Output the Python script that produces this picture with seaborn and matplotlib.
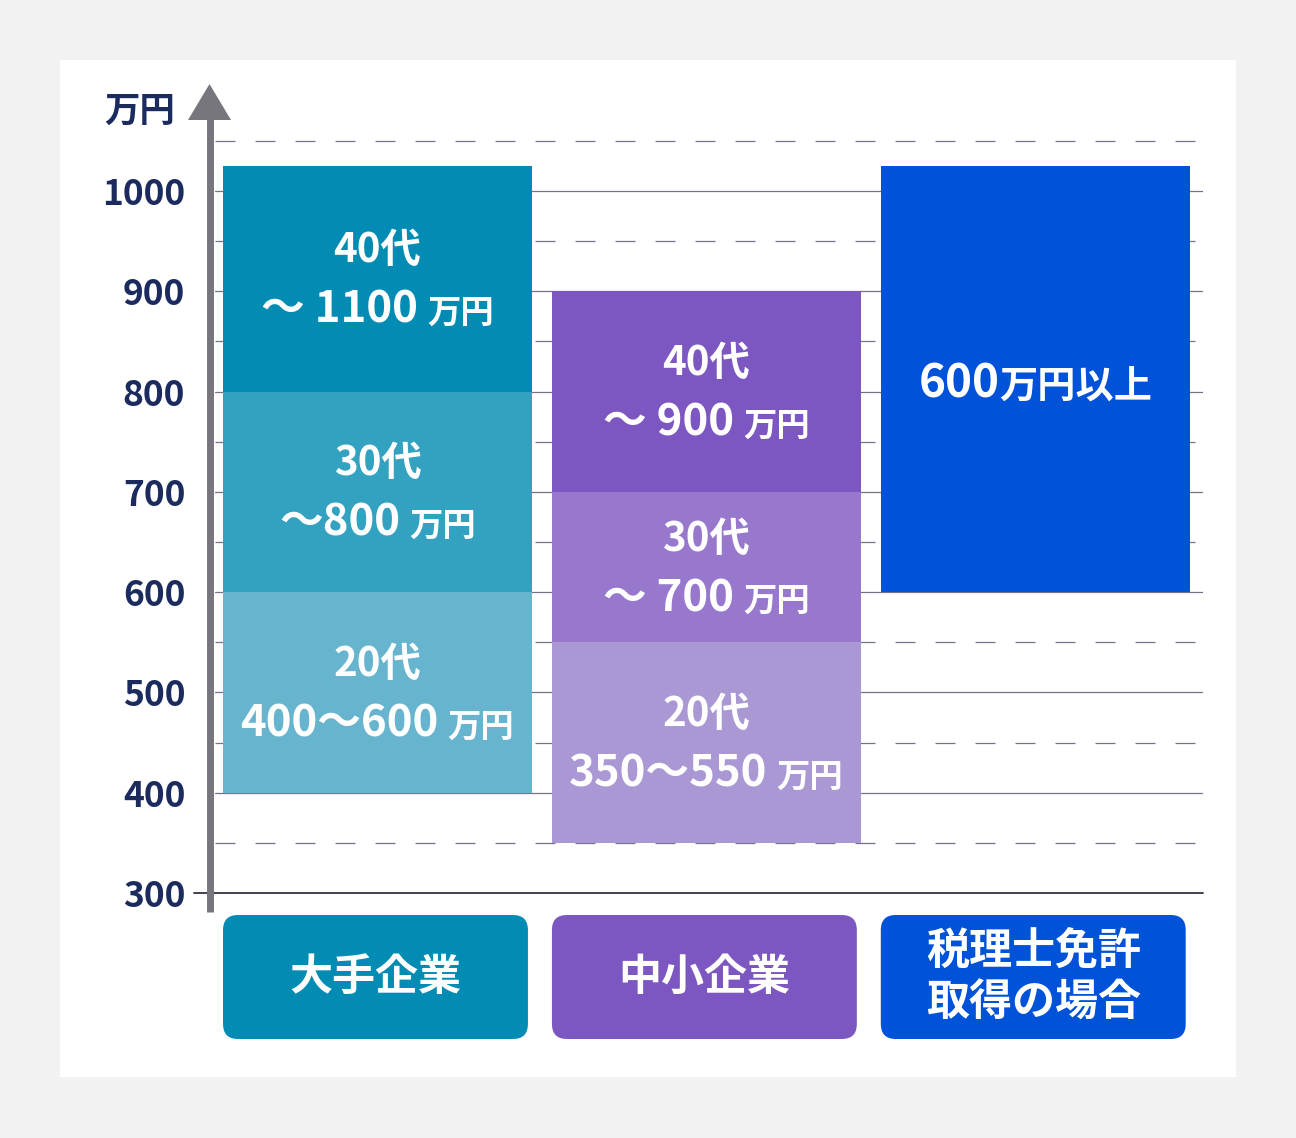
import pandas as pd
import numpy as np
import matplotlib
matplotlib.use("Agg")
import matplotlib.pyplot as plt
import matplotlib.transforms as mtransforms
from matplotlib.patches import FancyBboxPatch, Rectangle, Polygon
from matplotlib.lines import Line2D
import seaborn as sns

# ----------------------------------------------------------------------
# Data
# ----------------------------------------------------------------------
categories = ["大手企業", "中小企業", "税理士免許\n取得の場合"]
seg_category = ["大手企業", "大手企業", "大手企業",
                "中小企業", "中小企業", "中小企業",
                "税理士免許\n取得の場合"]
seg_low = [400, 600, 800, 350, 550, 700, 600]
seg_high = [600, 800, 1025, 550, 700, 900, 1025]
seg_line1 = ["20代", "30代", "40代", "20代", "30代", "40代", None]
seg_line2 = ["400～600", "～800", "～ 1100", "350～550", "～ 700", "～ 900", "600"]
seg_unit = ["万円", "万円", "万円", "万円", "万円", "万円", "万円以上"]
seg_color = ["#66b4ce", "#33a1c0", "#028bb3",
             "#aa98d5", "#9778cc", "#7d57c1", "#0052d9"]

box_colors = ["#028bb3", "#7d57c1", "#0052d9"]
major_ticks = [300, 400, 500, 600, 700, 800, 900, 1000]
minor_ticks = [350, 450, 550, 650, 750, 850, 950, 1050]

df = pd.DataFrame({"category": seg_category, "low": seg_low, "high": seg_high})
df["height"] = df["high"] - df["low"]

# ----------------------------------------------------------------------
# Figure setup
# ----------------------------------------------------------------------
sns.set_style("white")
plt.rcParams["font.family"] = ["Noto Sans CJK JP", "DejaVu Sans"]
plt.rcParams["lines.scale_dashes"] = False

W, H = 1296, 1138
fig = plt.figure(figsize=(W / 100, H / 100), dpi=100, facecolor="#f2f2f2")
fig.patches.append(Rectangle((60 / W, 1 - 1077 / H), 1176 / W, 1017 / H,
                             transform=fig.transFigure, facecolor="white",
                             edgecolor="none", zorder=-5))

ylo, yhi = 300, 1110
px_per_unit = 702 / 700
top_px = 893 - (yhi - ylo) * px_per_unit
ax = fig.add_axes([215 / W, 1 - 893 / H, 988 / W, (893 - top_px) / H])
ax.set_facecolor("none")

xlim = (-0.494, 2.51)
navy = "#1b2b5e"
grid_c = "#74738c"

# stacked segments, one barplot call each
for i, row in df.iterrows():
    sns.barplot(x=[row["category"]], y=[row["height"]], bottom=row["low"],
                order=categories, color=seg_color[i], saturation=1,
                width=0.94, errorbar=None, ax=ax, zorder=3, linewidth=0)

ax.set_xlim(*xlim)
ax.set_ylim(ylo, yhi)
ax.set_yticks(major_ticks)
ax.set_yticks(minor_ticks, minor=True)
ax.set_yticklabels([str(t) for t in major_ticks])
ax.set_xticks([])
ax.set_xlabel("")
ax.set_ylabel("")
ax.tick_params(axis="y", which="both", length=0, pad=21.5,
               labelsize=25.5, labelcolor=navy)
for lab in ax.get_yticklabels():
    lab.set_fontweight("bold")
sns.despine(ax=ax, left=True, bottom=True)

# grid lines under the bars
for t in major_ticks[1:]:
    ax.axhline(t, color=grid_c, lw=0.9, zorder=1)
for t in minor_ticks:
    ax.axhline(t, color=grid_c, lw=0.9, ls=(0, (14.4, 14.4)), zorder=1)
ax.axhline(300, xmin=-21 / 988, xmax=1, color="#333344", lw=1.3,
           zorder=1, clip_on=False)

# segment labels
fig.canvas.draw()
renderer = fig.canvas.get_renderer()
for i, row in df.iterrows():
    xc = categories.index(row["category"])
    yc = (row["low"] + row["high"]) / 2
    if seg_line1[i] is not None:
        off1 = mtransforms.offset_copy(ax.transData, fig=fig, x=0, y=28, units="dots")
        ax.text(xc, yc, seg_line1[i], transform=off1, ha="center", va="center",
                color="white", fontsize=29, fontweight="bold", zorder=5)
        dy = -30
        main_size, unit_size = 31.5, 24
        gap = 9
    else:
        dy = -4
        main_size, unit_size = 33, 27.5
        gap = 0
    t_main = ax.text(0, 0, seg_line2[i], fontsize=main_size, fontweight="bold")
    t_unit = ax.text(0, 0, seg_unit[i], fontsize=unit_size, fontweight="bold")
    w1 = t_main.get_window_extent(renderer).width
    w2 = t_unit.get_window_extent(renderer).width
    t_main.remove()
    t_unit.remove()
    left = -(w1 + gap + w2) / 2
    # baseline sits ~14px below the line centre
    tr1 = mtransforms.offset_copy(ax.transData, fig=fig, x=left, y=dy - 14, units="dots")
    tr2 = mtransforms.offset_copy(ax.transData, fig=fig, x=left + w1 + gap,
                                  y=dy - 14, units="dots")
    ax.text(xc, yc, seg_line2[i], transform=tr1, ha="left", va="baseline",
            color="white", fontsize=main_size, fontweight="bold", zorder=5)
    ax.text(xc, yc, seg_unit[i], transform=tr2, ha="left", va="baseline",
            color="white", fontsize=unit_size, fontweight="bold", zorder=5)

# vertical axis arrow
xa = 209.5 / W
fig.add_artist(Line2D([xa, xa], [1 - 912 / H, 1 - 118 / H], transform=fig.transFigure,
                      color="#76767c", lw=5, solid_capstyle="butt"))
fig.add_artist(Polygon([[188 / W, 1 - 120 / H], [231 / W, 1 - 120 / H],
                        [xa, 1 - 84 / H]], closed=True, transform=fig.transFigure,
                       facecolor="#76767c", edgecolor="none"))
fig.text(140 / W, 1 - 111 / H, "万円", ha="center", va="center",
         fontsize=25.5, fontweight="bold", color=navy)

# category boxes
ax2 = fig.add_axes([215 / W, 1 - 1039 / H, 988 / W, 124 / H])
ax2.set_xlim(*xlim)
ax2.set_ylim(0, 124 / 329)
ax2.axis("off")
bw = 305 / 329
rs = 15 / 329
shift = -2 / 329
for i, cat in enumerate(categories):
    ax2.add_patch(FancyBboxPatch((i + shift - bw / 2, 0), bw, 124 / 329,
                                 boxstyle=f"round,pad=0,rounding_size={rs}",
                                 facecolor=box_colors[i], edgecolor="none"))
    ax2.text(i + shift, 62 / 329, cat, ha="center", va="center", color="white",
             fontsize=31, fontweight="bold", linespacing=1.22)

fig.savefig("out.png", dpi=100, facecolor=fig.get_facecolor())
